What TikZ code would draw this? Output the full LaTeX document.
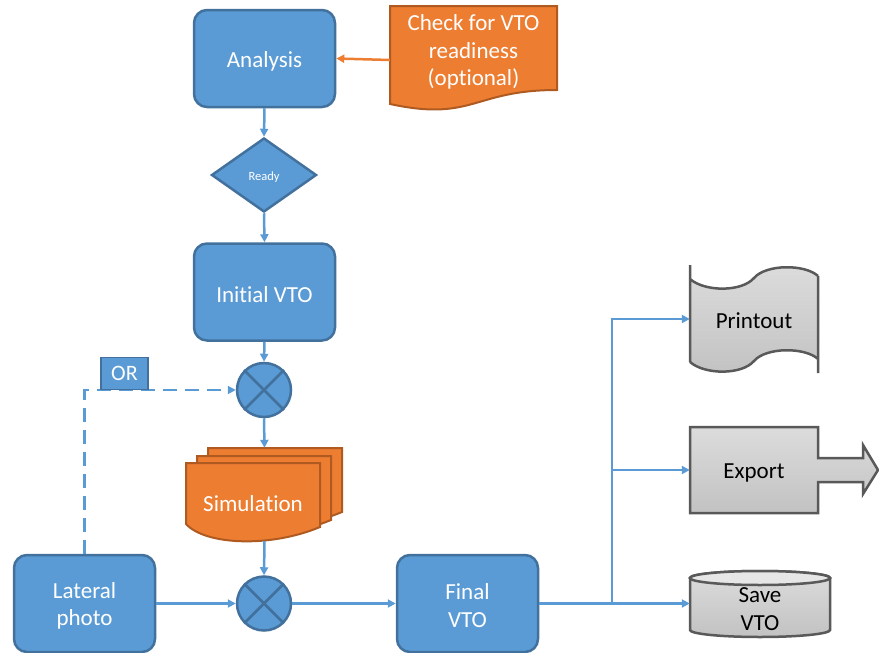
\documentclass[tikz,border=0pt]{standalone}
\usepackage{fontspec}
\setmainfont{Carlito}[Ligatures=NoCommon]
\usetikzlibrary{arrows.meta,shapes.geometric}
\definecolor{boxblue}{HTML}{5B9BD5}
\definecolor{boxedge}{HTML}{41719C}
\definecolor{docorange}{HTML}{ED7D31}
\definecolor{docedge}{HTML}{AE5A21}
\definecolor{greyedge}{HTML}{595959}
\definecolor{greytop}{HTML}{DCDCDC}
\definecolor{greybot}{HTML}{C2C2C2}
\definecolor{greylid}{HTML}{E6E6E6}
\definecolor{linkblue}{HTML}{5B9BD5}
\begin{document}
\begin{tikzpicture}[x=1pt,y=-1pt,
  font=\fontsize{23}{27.5}\selectfont,
  stepbox/.style={draw=boxedge, fill=boxblue, line width=2.5pt, rounded corners=13pt,
    text=white, minimum width=141pt, minimum height=97pt, align=center, inner sep=0pt,
    execute at begin node=\rule{0pt}{22pt}},
  steptext/.style={text=white, align=center, inner sep=0pt},
  mixer/.style={circle, draw=boxedge, fill=boxblue, line width=2.5pt, minimum size=54pt, inner sep=0pt},
  holder/.style={rectangle, inner sep=0pt},
  link/.style={draw=linkblue, line width=2.5pt, -{Triangle[length=8pt,width=8pt]}},
  orangedoc/.style={draw=docedge, fill=docorange, line width=2pt},
  greyshape/.style={draw=greyedge, line width=2.5pt, top color=greytop, bottom color=greybot},
]
\useasboundingbox (0,0) rectangle (879,653);

% ---- main column ----
\node[stepbox] (analysis) at (264.5,58.5) {Analysis};
\node[diamond, draw=boxedge, fill=boxblue, line width=2.5pt, minimum width=105pt,
      minimum height=74pt, inner sep=0pt, text=white,
      execute at begin node=\rule{0pt}{13pt},
      font=\fontsize{12.5}{14}\selectfont] (ready) at (264,175) {Ready};
\node[stepbox] (initial) at (264.5,292) {Initial VTO};
\node[mixer] (mixA) at (264,390) {};
\node[stepbox] (lateral) at (84.5,603.5) {};
\node[steptext] (lateraltext) at ([yshift=-2.5pt]lateral.center) {Lateral\\photo};
\node[mixer] (mixB) at (264,603.5) {};
\node[stepbox] (final) at (467.5,603.5) {};
\node[steptext] (finaltext) at ([yshift=-2pt]final.center) {Final\\VTO};
\foreach \m in {mixA,mixB}
  \draw[boxedge, line width=2.5pt] (\m.north west) -- (\m.south east)
                                   (\m.north east) -- (\m.south west);

% ---- optional readiness check (document shape) ----
\path[orangedoc] (390,6) -- (557,6) -- (557,90)
  .. controls (473,90) and (473,122) .. (390,104) -- cycle;
\node[holder, minimum width=167pt, minimum height=104pt] (check) at (473.5,58) {};
\node[text=white, align=center] (checktext) at (473.5,52)
  {Check for VTO\\readiness\\(optional)};

% ---- simulation (stacked documents) ----
\foreach \dx/\dy in {22/-15, 11/-7, 0/0}
  \path[orangedoc, shift={(\dx,\dy)}] (186,463) -- (320,463) -- (320,527)
    .. controls (270,548) and (205,545) .. (186,524) -- cycle;
\node[holder, minimum width=157pt, minimum height=93pt] (sim) at (264.5,494.5) {};
\node[text=white] (simtext) at (253,504) {Simulation};

% ---- outputs ----
% printout (punched tape)
\path[greyshape, draw=none] (690,279) .. controls (705,292) and (742,292) .. (754,278)
  .. controls (766,264) and (805,264) .. (818,276) -- (818,359)
  .. controls (805,347) and (766,347) .. (754,361)
  .. controls (742,375) and (705,375) .. (690,362) -- cycle;
\draw[greyedge, line width=2.5pt] (690,265) -- (690,362)
  (818,276) -- (818,373)
  (690,279) .. controls (705,292) and (742,292) .. (754,278)
  .. controls (766,264) and (805,264) .. (818,276)
  (690,362) .. controls (705,375) and (742,375) .. (754,361)
  .. controls (766,347) and (805,347) .. (818,359);
\node[holder, minimum width=128pt, minimum height=108pt] (print) at (754,319) {};
\node (printtext) at (754,320.5) {Printout};

% export (box with outgoing arrow)
\path[greyshape] (690,427) -- (818,427) -- (818,458) -- (863,458) -- (863,445)
  -- (878,470) -- (863,494) -- (863,482) -- (818,482) -- (818,513) -- (690,513) -- cycle;
\node[holder, minimum width=128pt, minimum height=86pt] (export) at (754,470) {};
\node (exporttext) at (754,472.5) {Export};

% save (cylinder)
\path[greyshape] (690,578) -- (690,630)
  arc[start angle=180, end angle=360, x radius=70pt, y radius=7pt] -- (830,578)
  arc[start angle=0, end angle=180, x radius=70pt, y radius=7pt] -- cycle;
\draw[greyedge, line width=2.5pt, fill=greylid] (760,578) ellipse[x radius=70pt, y radius=7pt];
\node[holder, minimum width=140pt, minimum height=66pt] (save) at (760,603.5) {};
\node[align=center] (savetext) at (760,609) {Save\\VTO};

% ---- connectors ----
\draw[link, draw=docorange] ([yshift=-2pt]check.west) -- (analysis.east);
\draw[link] (analysis.south) -- (ready.north);
\draw[link] (ready.south) -- (initial.north);
\draw[link] (initial.south) -- (mixA.north);
\draw[link] (mixA.south) -- (sim.north);
\draw[link] (sim.south) -- (mixB.north);
\draw[link] (lateral.east) -- (mixB.west);
\draw[link] (mixB.east) -- (final.west);
\draw[link] (final.east) -- (save.west);
\coordinate (fork) at (612,603.5);
\draw[link] (fork) |- (print.west);
\draw[link] (fork) |- (export.west);
\draw[link, dash pattern=on 14pt off 8pt] (lateral.north) |- (mixA.west);
\node[draw=boxedge, fill=boxblue, line width=1.5pt, text=white, minimum width=47pt,
      minimum height=32pt, inner sep=0pt, font=\fontsize{22}{24}\selectfont]
      (orbox) at (124.5,373.5) {OR};
\end{tikzpicture}
\end{document}
